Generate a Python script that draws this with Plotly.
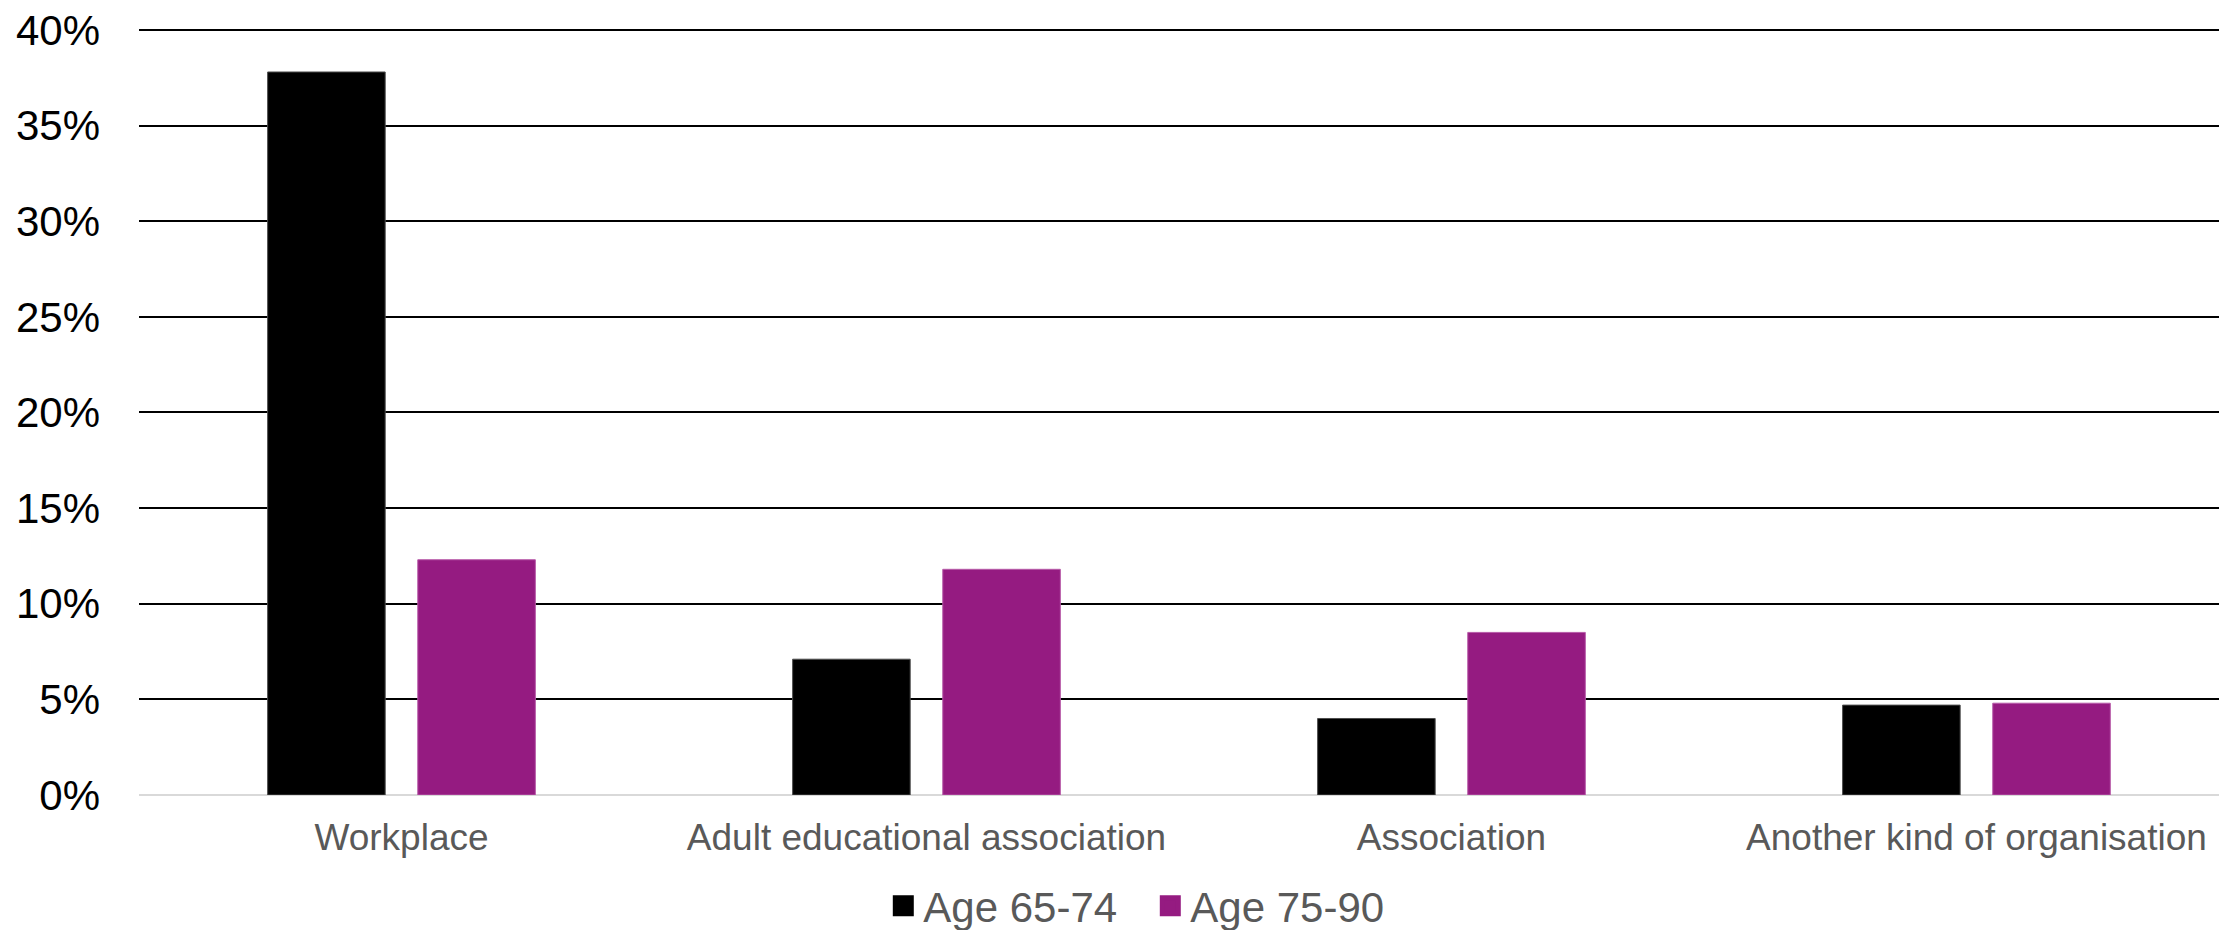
import plotly.graph_objects as go

categories = ["Workplace", "Adult educational association", "Association", "Another kind of organisation"]
age_65_74 = [37.8, 7.1, 4.0, 4.7]
age_75_90 = [12.3, 11.8, 8.5, 4.8]
series_names = ["Age 65-74", "Age 75-90"]
series_colors = ["#000000", "#951B81"]
outline_colors = ["#4d4d4d", "#b75aa8"]
y_ticks = [0, 5, 10, 15, 20, 25, 30, 35, 40]
y_tick_labels = ["0%", "5%", "10%", "15%", "20%", "25%", "30%", "35%", "40%"]

FONT = "Liberation Sans, Arial, sans-serif"

fig = go.Figure()
for name, vals, col, oc in zip(series_names, [age_65_74, age_75_90], series_colors, outline_colors):
    fig.add_trace(go.Bar(
        x=categories, y=vals, name=name, showlegend=False,
        marker=dict(color=col, line=dict(color=oc, width=1)),
        hoverinfo="x+y",
    ))
# legend entries (larger square symbols)
for name, col in zip(series_names, series_colors):
    fig.add_trace(go.Scatter(
        x=[None], y=[None], mode="markers", name=name,
        marker=dict(symbol="square", size=16, color=col, line=dict(color=col, width=5)),
    ))

fig.update_layout(
    width=2219, height=930,
    margin=dict(l=139, r=0, t=28, b=135, autoexpand=False),
    paper_bgcolor="white", plot_bgcolor="white",
    barmode="group", bargap=0.428, bargroupgap=0.217,
    font=dict(family=FONT, color="#000000"),
    showlegend=True,
    legend=dict(
        orientation="h", x=0.4862, xanchor="center", y=-0.1447, yanchor="middle",
        font=dict(size=42, color="#595959", family=FONT),
        bgcolor="rgba(0,0,0,0)",
        entrywidth=222, entrywidthmode="pixels",
    ),
    xaxis=dict(
        type="category", range=[-0.5, 3.462],
        showgrid=False, zeroline=False, showline=False,
        ticks="", ticklabelstandoff=17,
        tickfont=dict(size=37, color="#595959", family=FONT),
        fixedrange=True,
    ),
    yaxis=dict(
        range=[0, 40.1], tickmode="array", tickvals=y_ticks, ticktext=y_tick_labels,
        showgrid=True, gridcolor="#000000", gridwidth=1.5,
        zeroline=True, zerolinecolor="#d9d9d9", zerolinewidth=2,
        showline=False, ticks="",
        ticklabelstandoff=38,
        tickfont=dict(size=42, color="#000000", family=FONT),
        fixedrange=True,
    ),
)

fig.write_html("out.html")
